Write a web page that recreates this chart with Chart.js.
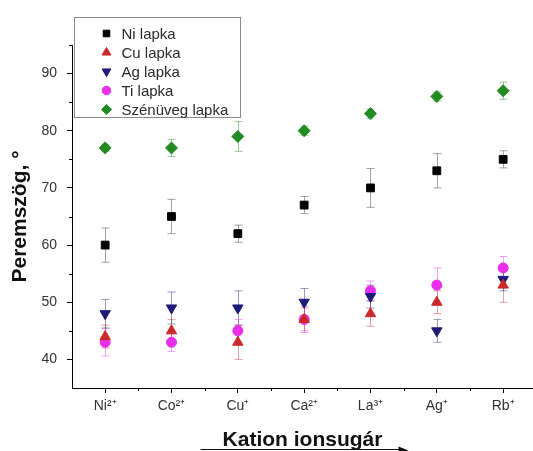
<!DOCTYPE html>
<html>
<head>
<meta charset="utf-8">
<script src="https://cdn.jsdelivr.net/npm/chart.js@4/dist/chart.umd.min.js"></script>
<style>
  html, body { margin: 0; padding: 0; background: #fff; }
  #wrap { width: 533px; height: 451px; }
</style>
</head>
<body>
<div id="wrap"><canvas id="c" width="533" height="451"></canvas></div>
<script>
// Cation labels on the x axis (ordered by ionic radius)
const categories = ['Ni²⁺', 'Co²⁺', 'Cu⁺', 'Ca²⁺', 'La³⁺', 'Ag⁺', 'Rb⁺'];

// Contact angle (°) per substrate, with standard deviations
const niLapka      = [60, 65, 62, 67, 70, 73, 75];
const niErr        = [3, 3, 1.5, 1.5, 3.4, 3, 1.5];
const cuLapka      = [44, 45, 43, 47, 48, 50, 53];
const cuErr        = [2, 2, 3, 2, 2.2, 2, 3];
const agLapka      = [48, 49, 49, 50, 51, 45, 54];
const agErr        = [2.5, 2.8, 3, 2.4, 2, 2, 2];
const tiLapka      = [43, 43, 45, 47, 52, 53, 56];
const tiErr        = [2.4, 1.6, 2, 2.3, 1.7, 3, 2];
const szenuvegLapka = [77, 77, 79, 80, 83, 86, 87];
const szenuvegErr  = [0.6, 1.5, 2.6, 0.8, 0.8, 0.8, 1.5];

// Y axis labelled ticks
const yTicks = [40, 50, 60, 70, 80, 90];

const FONT = "'Liberation Sans', Arial, Helvetica, sans-serif";

function pts(values) {
  return values.map((v, i) => ({ x: i + 1, y: v }));
}

function series(label, values, errors, color, errColor, style, radius, rotation) {
  return {
    label,
    data: pts(values),
    errors,
    errorColor: errColor,
    showLine: false,
    pointStyle: style,
    pointRotation: rotation || 0,
    pointRadius: radius,
    pointHoverRadius: radius,
    pointBackgroundColor: color,
    pointBorderColor: color,
    pointBorderWidth: 1,
    backgroundColor: color,
    borderColor: color
  };
}

const datasets = [
  series('Ni lapka', niLapka, niErr, '#000000', 'rgba(90,90,90,0.55)', 'rect', 5.5),
  series('Cu lapka', cuLapka, cuErr, '#cc2a2a', 'rgba(204,42,42,0.45)', 'triangle', 6),
  series('Ag lapka', agLapka, agErr, '#1c1c78', 'rgba(28,28,120,0.45)', 'triangle', 6, 180),
  series('Ti lapka', tiLapka, tiErr, '#e82ee8', 'rgba(232,46,232,0.45)', 'circle', 5),
  series('Szénüveg lapka', szenuvegLapka, szenuvegErr, '#228b22', 'rgba(34,139,34,0.45)', 'rectRot', 6)
];

// Vertical error bars with caps, positioned through the chart scales
const errorBars = {
  id: 'errorBars',
  beforeDatasetsDraw(chart) {
    const { ctx, scales: { x, y } } = chart;
    chart.data.datasets.forEach((ds, i) => {
      if (!chart.isDatasetVisible(i)) return;
      ctx.save();
      ctx.strokeStyle = ds.errorColor;
      ctx.lineWidth = 1;
      ds.data.forEach((p, j) => {
        const e = ds.errors[j];
        const px = Math.round(x.getPixelForValue(p.x)) + 0.5;
        const top = y.getPixelForValue(p.y + e);
        const bot = y.getPixelForValue(p.y - e);
        ctx.beginPath();
        ctx.moveTo(px, top); ctx.lineTo(px, bot);
        ctx.moveTo(px - 4, top); ctx.lineTo(px + 4, top);
        ctx.moveTo(px - 4, bot); ctx.lineTo(px + 4, bot);
        ctx.stroke();
      });
      ctx.restore();
    });
  }
};

// Minor tick marks between the labelled ones
const minorTicks = {
  id: 'minorTicks',
  afterDraw(chart) {
    const { ctx, scales: { x, y } } = chart;
    ctx.save();
    ctx.strokeStyle = '#000';
    ctx.lineWidth = 1;
    ctx.beginPath();
    for (let v = 1.5; v < x.max; v += 1) {
      const px = Math.round(x.getPixelForValue(v)) + 0.5;
      ctx.moveTo(px, y.bottom); ctx.lineTo(px, y.bottom + 3);
    }
    for (let v = y.min + 10; v <= y.max; v += 10) {
      const py = Math.round(y.getPixelForValue(v)) + 0.5;
      ctx.moveTo(x.left - 3, py); ctx.lineTo(x.left, py);
    }
    ctx.stroke();
    ctx.restore();
  }
};

// Boxed legend in the upper-left corner of the plot
const boxedLegend = {
  id: 'boxedLegend',
  afterDraw(chart) {
    const { ctx, chartArea } = chart;
    const left = chartArea.left + 2.5, top = 17.5, w = 166, h = 100;
    ctx.save();
    ctx.fillStyle = '#fff';
    ctx.fillRect(left, top, w, h);
    ctx.strokeStyle = '#8a8a8a';
    ctx.lineWidth = 1;
    ctx.strokeRect(left, top, w, h);
    ctx.font = '15px ' + FONT;
    ctx.textBaseline = 'middle';
    chart.data.datasets.forEach((ds, i) => {
      const cy = top + 16 + i * 19;
      ctx.fillStyle = ds.pointBackgroundColor;
      ctx.strokeStyle = ds.pointBorderColor;
      ctx.lineWidth = 1;
      Chart.helpers.drawPoint(ctx, {
        pointStyle: ds.pointStyle,
        rotation: ds.pointRotation,
        radius: ds.pointRadius * 0.85,
        borderWidth: 1
      }, left + 32, cy);
      ctx.fillStyle = '#2a2a2a';
      ctx.fillText(ds.label, left + 47, cy + 1);
    });
    ctx.restore();
  }
};

// Arrow under the x axis title (direction of increasing ionic radius)
const radiusArrow = {
  id: 'radiusArrow',
  afterDraw(chart) {
    const { ctx, scales: { x } } = chart;
    const mid = (x.left + x.right) / 2;
    const yLine = 449.5;
    ctx.save();
    ctx.strokeStyle = '#111';
    ctx.fillStyle = '#111';
    ctx.lineWidth = 1;
    ctx.beginPath();
    ctx.moveTo(mid - 102, yLine); ctx.lineTo(mid + 100, yLine);
    ctx.stroke();
    ctx.beginPath();
    ctx.moveTo(mid + 106, yLine + 1);
    ctx.lineTo(mid + 96, yLine - 3);
    ctx.lineTo(mid + 96, yLine + 5);
    ctx.closePath();
    ctx.fill();
    ctx.restore();
  }
};

new Chart(document.getElementById('c'), {
  type: 'scatter',
  data: { datasets },
  plugins: [errorBars, minorTicks, boxedLegend, radiusArrow],
  options: {
    responsive: false,
    animation: false,
    layout: { autoPadding: false, padding: { top: 45, right: 0, left: 0, bottom: 0 } },
    plugins: {
      legend: { display: false },
      tooltip: { enabled: false }
    },
    scales: {
      x: {
        type: 'linear',
        min: 0.5,
        max: 7.45,
        afterFit(scale) { scale.height = 63; scale.paddingLeft = 0; scale.paddingRight = 0; },
        afterBuildTicks(scale) { scale.ticks = categories.map((c, i) => ({ value: i + 1 })); },
        ticks: {
          autoSkip: false,
          maxRotation: 0,
          padding: 5,
          color: '#333',
          font: { family: FONT, size: 14 },
          callback: (v) => categories[v - 1]
        },
        grid: { display: true, drawOnChartArea: false, drawTicks: true, tickLength: 5, color: '#000' },
        border: { display: true, color: '#000', width: 1 },
        title: {
          display: true,
          text: 'Kation ionsugár',
          color: '#111',
          font: { family: FONT, size: 21, weight: 'bold', lineHeight: 1 },
          padding: { top: 0, bottom: 0 }
        }
      },
      y: {
        min: 35,
        max: 95,
        afterFit(scale) { scale.width = 72; scale.paddingTop = 0; scale.paddingBottom = 0; },
        afterBuildTicks(scale) { scale.ticks = yTicks.map(v => ({ value: v })); },
        ticks: {
          padding: 10,
          color: '#333',
          font: { family: FONT, size: 14 }
        },
        grid: { display: true, drawOnChartArea: false, drawTicks: true, tickLength: 5, color: '#000' },
        border: { display: true, color: '#000', width: 1 },
        title: {
          display: true,
          text: 'Peremszög, °',
          color: '#111',
          font: { family: FONT, size: 21, weight: 'bold', lineHeight: 1 },
          padding: { top: 9.5, bottom: 0 }
        }
      }
    }
  }
});
</script>
</body>
</html>
